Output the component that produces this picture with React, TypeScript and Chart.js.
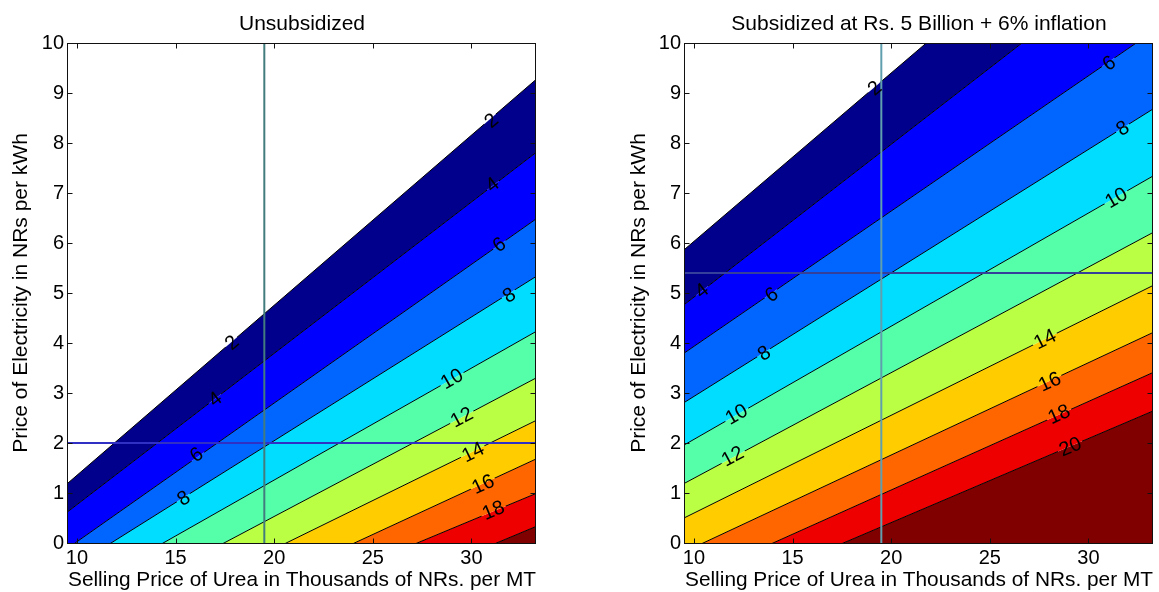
import React, { useEffect, useRef } from "react";
import { Chart, registerables } from "chart.js";

Chart.register(...registerables);

const FONT = "'Liberation Sans', Arial, Helvetica, sans-serif";

// ---- axes ----
const xMin = 9.55;
const xMax = 33.27;
const yMin = 0;
const yMax = 10;
const xTickValues = [10, 15, 20, 25, 30];
const yTickValues = [0, 1, 2, 3, 4, 5, 6, 7, 8, 9, 10];
const xAxisTitle = "Selling Price of Urea in Thousands of NRs. per MT";
const yAxisTitle = "Price of Electricity in NRs per kWh";

// ---- contour levels and band colours (band i lies between level i and level i+1) ----
const contourLevels = [2, 4, 6, 8, 10, 12, 14, 16, 18, 20];
const bandColors = [
  "#00008c",
  "#0000ff",
  "#0066ff",
  "#00ddff",
  "#55ffaa",
  "#bbff44",
  "#ffcc00",
  "#ff6600",
  "#ee0000",
  "#800000",
];

// each contour is read as its y-value at the left and the right edge of the plot
const contourEdgeX = [9.55, 33.27];

// Unsubsidized
const unsubTitle = "Unsubsidized";
const unsubStartY = [1.2, 0.63, -0.1, -0.54, -1.08, -1.65, -2.14, -2.65, -2.91, -3.58];
const unsubEndY = [9.27, 7.81, 6.48, 5.33, 4.23, 3.3, 2.45, 1.68, 0.99, 0.33];
const unsubLabelLevels = [2, 2, 4, 4, 6, 6, 8, 8, 10, 12, 14, 16, 18];
const unsubLabelX = [31.0, 17.85, 31.05, 17.0, 31.4, 16.05, 31.9, 15.4, 29.0, 29.5, 30.07, 30.58, 31.1];
const unsubLabelY = [8.45, 4.01, 7.17, 2.88, 5.97, 1.77, 4.96, 0.9, 3.29, 2.52, 1.82, 1.18, 0.66];
const unsubMarkerX = 19.5;
const unsubMarkerY = 2.0;

// Subsidized
const subTitle = "Subsidized at Rs. 5 Billion + 6% inflation";
const subStartY = [5.88, 4.78, 3.81, 2.82, 1.97, 1.2, 0.51, -0.17, -0.79, -1.35];
const subEndY = [13.87, 12.03, 10.23, 8.68, 7.34, 6.21, 5.15, 4.21, 3.41, 2.64];
const subLabelLevels = [2, 4, 6, 6, 8, 8, 10, 10, 12, 14, 16, 18, 20];
const subLabelX = [19.16, 10.4, 13.93, 31.03, 13.55, 31.72, 12.15, 31.4, 11.96, 27.79, 28.03, 28.5, 29.07];
const subLabelY = [9.1, 5.05, 4.97, 9.6, 3.8, 8.3, 2.58, 6.91, 1.74, 4.08, 3.23, 2.58, 1.93];
const subMarkerX = 19.5;
const subMarkerY = 5.4;

type PanelProps = {
  left: number;
  width: number;
  height: number;
  yAxisWidth: number;
  padRight: number;
  yTitlePad: number;
  title: string;
  startY: number[];
  endY: number[];
  labelLevels: number[];
  labelX: number[];
  labelY: number[];
  markerX: number;
  markerY: number;
  vColor: string;
  hColor: string;
};

const LABEL_FONT = `20px ${FONT}`;

function labelGeometry(chart: any, p: PanelProps) {
  const xs = chart.scales.x;
  const ys = chart.scales.y;
  const ctx = chart.ctx;
  ctx.save();
  ctx.font = LABEL_FONT;
  const out = p.labelLevels.map((lvl, k) => {
    const i = contourLevels.indexOf(lvl);
    const x0 = xs.getPixelForValue(contourEdgeX[0]);
    const y0 = ys.getPixelForValue(p.startY[i]);
    const x1 = xs.getPixelForValue(contourEdgeX[1]);
    const y1 = ys.getPixelForValue(p.endY[i]);
    const angle = Math.atan2(y1 - y0, x1 - x0);
    const text = String(lvl);
    const w = ctx.measureText(text).width;
    return {
      text,
      cx: xs.getPixelForValue(p.labelX[k]),
      cy: ys.getPixelForValue(p.labelY[k]),
      angle,
      hw: w / 2 + 2,
      hh: 9,
    };
  });
  ctx.restore();
  return out;
}

function makePlugin(p: PanelProps) {
  let saved = false;
  return {
    id: "contourDecor",
    beforeDatasetDraw(chart: any, args: any) {
      saved = false;
      if (args.index >= contourLevels.length) return;
      const ctx = chart.ctx;
      const geo = labelGeometry(chart, p);
      ctx.save();
      saved = true;
      ctx.beginPath();
      ctx.rect(0, 0, chart.width, chart.height);
      geo.forEach((g) => {
        const c = Math.cos(g.angle);
        const s = Math.sin(g.angle);
        const pts = [
          [-g.hw, -g.hh],
          [g.hw, -g.hh],
          [g.hw, g.hh],
          [-g.hw, g.hh],
        ].map(([u, v]) => [g.cx + u * c - v * s, g.cy + u * s + v * c]);
        ctx.moveTo(pts[0][0], pts[0][1]);
        for (let j = 1; j < 4; j++) ctx.lineTo(pts[j][0], pts[j][1]);
        ctx.closePath();
      });
      ctx.clip("evenodd");
    },
    afterDatasetDraw(chart: any) {
      if (saved) {
        chart.ctx.restore();
        saved = false;
      }
    },
    afterDatasetsDraw(chart: any) {
      const ctx = chart.ctx;
      const area = chart.chartArea;
      const xs = chart.scales.x;
      const ys = chart.scales.y;
      // contour labels
      const geo = labelGeometry(chart, p);
      ctx.save();
      ctx.beginPath();
      ctx.rect(area.left, area.top, area.right - area.left, area.bottom - area.top);
      ctx.clip();
      ctx.font = LABEL_FONT;
      ctx.fillStyle = "#000";
      ctx.textAlign = "center";
      ctx.textBaseline = "middle";
      geo.forEach((g) => {
        ctx.save();
        ctx.translate(g.cx, g.cy);
        ctx.rotate(g.angle);
        ctx.fillText(g.text, 0, 1);
        ctx.restore();
      });
      ctx.restore();
      // frame and inward ticks
      ctx.save();
      ctx.strokeStyle = "#111";
      ctx.lineWidth = 1;
      const L = Math.round(area.left) - 0.5;
      const R = Math.round(area.right) - 0.5;
      const T = Math.round(area.top) + 0.5;
      const B = Math.round(area.bottom) + 0.5;
      ctx.strokeRect(L, T, R - L, B - T);
      ctx.beginPath();
      const tl = 5;
      xTickValues.forEach((v) => {
        const px = Math.round(xs.getPixelForValue(v)) + 0.5;
        ctx.moveTo(px, B);
        ctx.lineTo(px, B - tl);
        ctx.moveTo(px, T);
        ctx.lineTo(px, T + tl);
      });
      yTickValues.forEach((v) => {
        const py = Math.round(ys.getPixelForValue(v)) + 0.5;
        ctx.moveTo(L, py);
        ctx.lineTo(L + tl, py);
        ctx.moveTo(R, py);
        ctx.lineTo(R - tl, py);
      });
      ctx.stroke();
      ctx.restore();
    },
  };
}

function buildConfig(p: PanelProps): any {
  const datasets: any[] = contourLevels.map((lvl, i) => ({
    label: "Level " + lvl,
    data: [
      { x: contourEdgeX[0], y: p.startY[i] },
      { x: contourEdgeX[1], y: p.endY[i] },
    ],
    borderColor: "#000",
    borderWidth: 1,
    pointRadius: 0,
    tension: 0,
    backgroundColor: bandColors[i],
    fill: i < contourLevels.length - 1 ? "+1" : "start",
    clip: 0,
  }));
  datasets.push({
    label: "urea price",
    data: [
      { x: p.markerX, y: yMin },
      { x: p.markerX, y: yMax },
    ],
    borderColor: p.vColor,
    borderWidth: 2,
    pointRadius: 0,
    fill: false,
    order: -1,
    clip: 0,
  });
  datasets.push({
    label: "electricity price",
    data: [
      { x: xMin, y: p.markerY },
      { x: xMax, y: p.markerY },
    ],
    borderColor: p.hColor,
    borderWidth: 2,
    pointRadius: 0,
    fill: false,
    order: -1,
    clip: 0,
  });

  return {
    type: "line",
    data: { datasets },
    options: {
      responsive: false,
      animation: false,
      devicePixelRatio: 1,
      events: [],
      layout: { padding: { left: 0, right: p.padRight, top: 0, bottom: 0 } },
      plugins: {
        legend: { display: false },
        tooltip: { enabled: false },
        filler: { drawTime: "beforeDatasetsDraw", propagate: false },
        title: {
          display: true,
          text: p.title,
          fullSize: false,
          color: "#000",
          font: { family: FONT, size: 21, weight: "normal", lineHeight: 1 },
          padding: { top: 14, bottom: 8 },
        },
      },
      scales: {
        x: {
          type: "linear",
          min: xMin,
          max: xMax,
          afterBuildTicks: (s: any) => {
            s.ticks = xTickValues.map((v) => ({ value: v }));
          },
          afterFit: (s: any) => {
            s.height = 49;
          },
          grid: { display: false, drawTicks: false },
          border: { display: false },
          ticks: {
            color: "#000",
            font: { family: FONT, size: 20 },
            padding: 3,
            maxRotation: 0,
            autoSkip: false,
          },
          title: {
            display: true,
            text: xAxisTitle,
            color: "#000",
            font: { family: FONT, size: 21, lineHeight: 1 },
            padding: { top: 0, bottom: 1.5 },
          },
        },
        y: {
          type: "linear",
          min: yMin,
          max: yMax,
          afterBuildTicks: (s: any) => {
            s.ticks = yTickValues.map((v) => ({ value: v }));
          },
          afterFit: (s: any) => {
            s.width = p.yAxisWidth;
          },
          grid: { display: false, drawTicks: false },
          border: { display: false },
          ticks: {
            color: "#000",
            font: { family: FONT, size: 20 },
            padding: 4,
            autoSkip: false,
          },
          title: {
            display: true,
            text: yAxisTitle,
            color: "#000",
            font: { family: FONT, size: 21, lineHeight: 1 },
            padding: { top: p.yTitlePad, bottom: 0 },
          },
        },
      },
    },
    plugins: [makePlugin(p)],
  };
}

function ContourPanel(props: PanelProps) {
  const ref = useRef<HTMLCanvasElement | null>(null);
  useEffect(() => {
    const canvas = ref.current;
    if (!canvas) return;
    const chart = new Chart(canvas, buildConfig(props));
    return () => chart.destroy();
  }, []);
  return (
    <canvas
      ref={ref}
      width={props.width}
      height={props.height}
      style={{
        position: "absolute",
        left: props.left,
        top: 0,
        width: props.width,
        height: props.height,
      }}
    />
  );
}

export default function App() {
  return (
    <div
      style={{
        position: "absolute",
        left: 0,
        top: 0,
        width: 1159,
        height: 592,
        background: "#fff",
        overflow: "hidden",
      }}
    >
      <ContourPanel
        left={0}
        width={590}
        height={592}
        yAxisWidth={68}
        padRight={54}
        yTitlePad={10.5}
        title={unsubTitle}
        startY={unsubStartY}
        endY={unsubEndY}
        labelLevels={unsubLabelLevels}
        labelX={unsubLabelX}
        labelY={unsubLabelY}
        markerX={unsubMarkerX}
        markerY={unsubMarkerY}
        vColor="#437c7e"
        hColor="#3030c4"
      />
      <ContourPanel
        left={590}
        width={569}
        height={592}
        yAxisWidth={95}
        padRight={6}
        yTitlePad={38.5}
        title={subTitle}
        startY={subStartY}
        endY={subEndY}
        labelLevels={subLabelLevels}
        labelX={subLabelX}
        labelY={subLabelY}
        markerX={subMarkerX}
        markerY={subMarkerY}
        vColor="#5f9fae"
        hColor="#34409a"
      />
    </div>
  );
}
